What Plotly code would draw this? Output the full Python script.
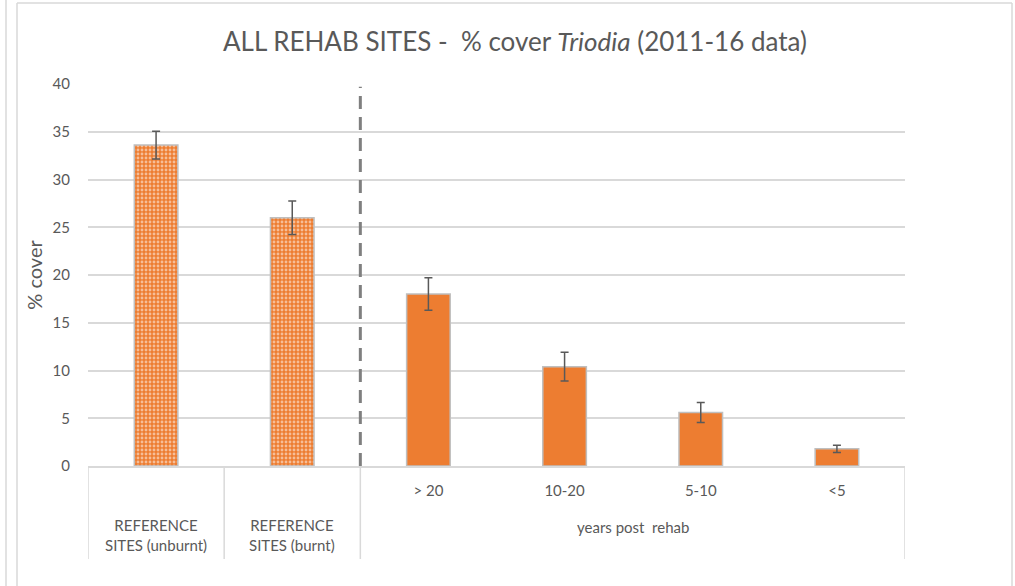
import plotly.graph_objects as go

# Mean % cover of Triodia per site class, with standard errors
categories = ["ref_unburnt", "ref_burnt", "> 20", "10-20", "5-10", "<5"]
tick_labels = ["", "", "> 20", "10-20", "5-10", "<5"]
cover = [33.6, 26.0, 18.0, 10.4, 5.6, 1.8]
cover_err = [1.45, 1.75, 1.7, 1.5, 1.05, 0.38]
patterns = [".", ".", "", "", "", ""]

W, H = 1015, 586
L, R, T, B = 88, 110, 84, 120
PW, PH = W - L - R, H - T - B

GRID = "#d9d9d9"
TXT = "#595959"
FONT = "Lato"


def px(x):
    return (x - L) / PW


def py(y):
    return 1 - (y - T) / PH


fig = go.Figure()
fig.add_trace(go.Bar(
    x=categories,
    y=cover,
    marker=dict(
        color="#ED7D31",
        line=dict(color="#BFBFBF", width=1.5),
        pattern=dict(shape=patterns, fgcolor="white", bgcolor="#ED7D31",
                     size=4, solidity=0.4, fillmode="overlay"),
    ),
    error_y=dict(type="data", array=cover_err, color="#595959",
                 thickness=1.5, width=4),
    hoverinfo="skip",
))

shapes = []
# divider between reference sites and rehab sites
shapes.append(dict(type="line", xref="x", yref="y", x0=1.5, x1=1.5, y0=0, y1=39.7,
                   line=dict(color="#7f7f7f", width=3, dash="13px,8px")))
# category axis dividers
for xb in [-0.5, 0.5, 1.5, 5.5]:
    shapes.append(dict(type="line", xref="x", yref="paper", x0=xb, x1=xb,
                       y0=py(559), y1=0, line=dict(color=GRID, width=1.5)))
# chart frame
shapes.append(dict(type="line", xref="paper", yref="paper", x0=px(6), x1=px(6),
                   y0=py(0), y1=py(586), line=dict(color=GRID, width=1.5)))
shapes.append(dict(type="line", xref="paper", yref="paper", x0=px(17), x1=px(17),
                   y0=py(3), y1=py(586), line=dict(color=GRID, width=1.5)))
shapes.append(dict(type="line", xref="paper", yref="paper", x0=px(17), x1=px(1012),
                   y0=py(3), y1=py(3), line=dict(color=GRID, width=1.5)))
shapes.append(dict(type="line", xref="paper", yref="paper", x0=px(1012), x1=px(1012),
                   y0=py(3), y1=py(586), line=dict(color=GRID, width=1.5)))

annotations = [
    dict(text="REFERENCE<br>SITES (unburnt)", x=0, xref="x", y=py(535), yref="paper",
         yanchor="middle", showarrow=False,
         font=dict(family=FONT, size=15, color=TXT), align="center"),
    dict(text="REFERENCE<br>SITES (burnt)", x=1, xref="x", y=py(535), yref="paper",
         yanchor="middle", showarrow=False,
         font=dict(family=FONT, size=15, color=TXT), align="center"),
    dict(text="years post  rehab", x=3.5, xref="x", y=py(527), yref="paper",
         yanchor="middle", showarrow=False,
         font=dict(family=FONT, size=15, color=TXT)),
]

fig.update_layout(
    width=W, height=H,
    margin=dict(l=L, r=R, t=T, b=B, pad=0),
    paper_bgcolor="white", plot_bgcolor="white",
    bargap=0.68,
    showlegend=False,
    title=dict(text="ALL REHAB SITES -  % cover <i>Triodia</i> (2011-16 data)",
               xref="container", yref="container",
               x=515 / W, xanchor="center", y=1 - 42 / H, yanchor="middle",
               font=dict(family=FONT, size=26, color=TXT)),
    font=dict(family=FONT, color=TXT),
    xaxis=dict(
        type="category",
        categoryorder="array", categoryarray=categories,
        tickmode="array", tickvals=categories, ticktext=tick_labels,
        tickfont=dict(family=FONT, size=15, color=TXT),
        showgrid=False, showline=True, linecolor=GRID, linewidth=1.5,
        ticks="outside", ticklen=10, tickcolor="rgba(0,0,0,0)",
        zeroline=False, range=[-0.5, 5.5],
    ),
    yaxis=dict(
        range=[0, 40], tickvals=[0, 5, 10, 15, 20, 25, 30, 35, 40],
        showgrid=True, gridcolor=GRID, gridwidth=1.5,
        zeroline=False, showline=False,
        tickfont=dict(family=FONT, size=15, color=TXT),
        ticks="outside", ticklen=14, tickcolor="rgba(0,0,0,0)",
        title=dict(text="% cover", font=dict(family=FONT, size=20, color=TXT),
                   standoff=4),
    ),
    shapes=shapes,
    annotations=annotations,
)

fig.write_html("out.html")
